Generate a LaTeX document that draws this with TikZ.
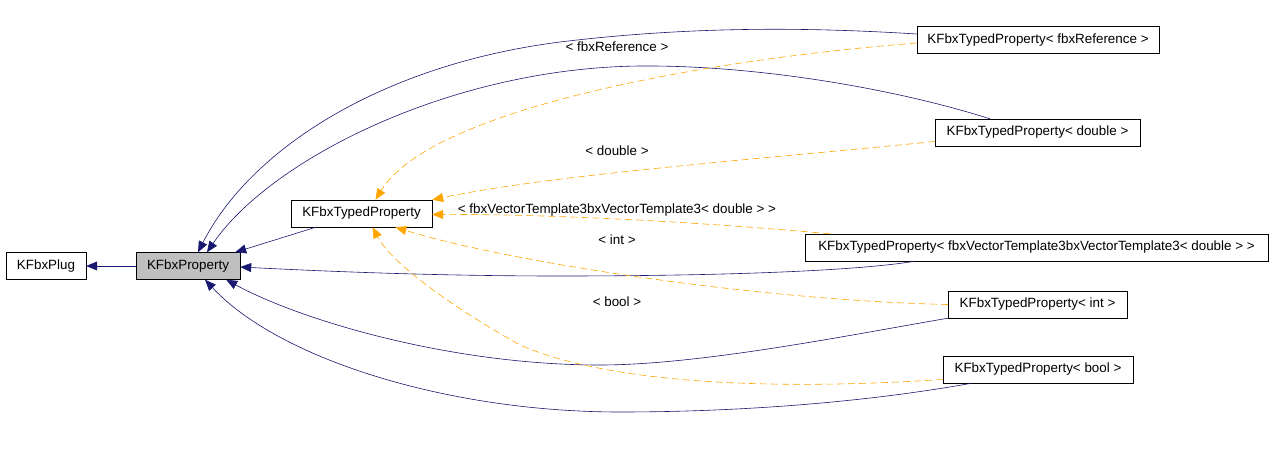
\documentclass[tikz,border=0pt]{standalone}
\usepackage{fontspec}
\setmainfont{Liberation Sans}
\usetikzlibrary{arrows.meta}
\definecolor{navyc}{HTML}{191970}
\definecolor{orangec}{HTML}{FFA500}
\definecolor{grayfill}{HTML}{BFBFBF}
\tikzset{
  box/.style={draw=black, fill=white, minimum height=27pt, inner sep=0pt, font=\fontsize{13.4}{14}\selectfont},
  inh/.style={draw=navyc, line width=0.6pt, -{Triangle[length=11pt,width=9pt]}, fill=none},
  tmpl/.style={draw=orangec, line width=0.6pt, dash pattern=on 7pt off 4pt, -{Triangle[length=11pt,width=9pt]}},
  lbl/.style={font=\fontsize{13.4}{14}\selectfont, inner sep=0pt}
}
\begin{document}
\begin{tikzpicture}[x=1pt,y=-1pt]
\useasboundingbox (0,0) rectangle (1275,455);
\node[box, minimum width=80pt] (plug) at (46,266) {KFbxPlug};
\node[box, minimum width=104pt, fill=grayfill] (prop) at (188,266) {KFbxProperty};
\node[box, minimum width=141pt] (typed) at (361.5,213.5) {KFbxTypedProperty};
\node[box, minimum width=242pt] (ref) at (1038,40) {KFbxTypedProperty< fbxReference >};
\node[box, minimum width=205pt] (dbl) at (1037.5,132.5) {KFbxTypedProperty< double >};
\node[box, minimum width=463pt] (vec) at (1036.5,247.5) {KFbxTypedProperty< fbxVectorTemplate3bxVectorTemplate3< double > >};
\node[box, minimum width=179pt] (int) at (1037.5,304.5) {KFbxTypedProperty< int >};
\node[box, minimum width=190pt] (bool) at (1038,369.5) {KFbxTypedProperty< bool >};

% inheritance (navy)
\draw[inh] (prop.west) -- (plug.east);
\draw[inh] ([xshift=25pt]typed.south west) -- ([xshift=-5pt]prop.north east);
\draw[inh] ([yshift=6pt]ref.west) .. controls (820,28) and (700,25) .. (560,42) .. controls (380,65) and (250,150) .. ([xshift=10pt]prop.north);
\draw[inh] ([xshift=55pt]dbl.north west) .. controls (900,90) and (760,65) .. (640,66) .. controls (450,68) and (270,160) .. ([xshift=19pt]prop.north);
\draw[inh] ([xshift=110pt]vec.south west) .. controls (850,272) and (700,276) .. (560,276) .. controls (420,276) and (300,270) .. ([yshift=-1pt]prop.east);
\draw[inh] (int.south west) .. controls (850,335) and (700,365) .. (600,365) .. controls (450,365) and (300,320) .. ([xshift=-14pt]prop.south east);
\draw[inh] ([xshift=29pt]bool.south west) .. controls (850,405) and (720,412) .. (620,412) .. controls (450,412) and (280,360) .. ([xshift=17pt]prop.south);

% template instantiation (orange)
\draw[tmpl] ([yshift=-3pt]ref.west) .. controls (700,60) and (430,110) .. ([xshift=14pt]typed.north);
\draw[tmpl] ([yshift=-9pt]dbl.west) .. controls (750,160) and (550,175) .. (typed.north east);
\draw[tmpl] ([xshift=25pt]vec.north west) .. controls (700,222) and (550,214) .. ([yshift=-1pt]typed.east);
\draw[tmpl] (int.west) .. controls (750,300) and (500,260) .. ([xshift=34pt]typed.south);
\draw[tmpl] ([yshift=-10pt]bool.west) .. controls (750,392) and (600,380) .. (520,345) .. controls (440,300) and (390,260) .. ([xshift=11pt]typed.south);

\node[lbl] (l1) at (617,47) {< fbxReference >};
\node[lbl] (l2) at (617,151) {< double >};
\node[lbl] (l3) at (617,210) {< fbxVectorTemplate3bxVectorTemplate3< double > >};
\node[lbl] (l4) at (617,240) {< int >};
\node[lbl] (l5) at (617,302) {< bool >};
\end{tikzpicture}
\end{document}
